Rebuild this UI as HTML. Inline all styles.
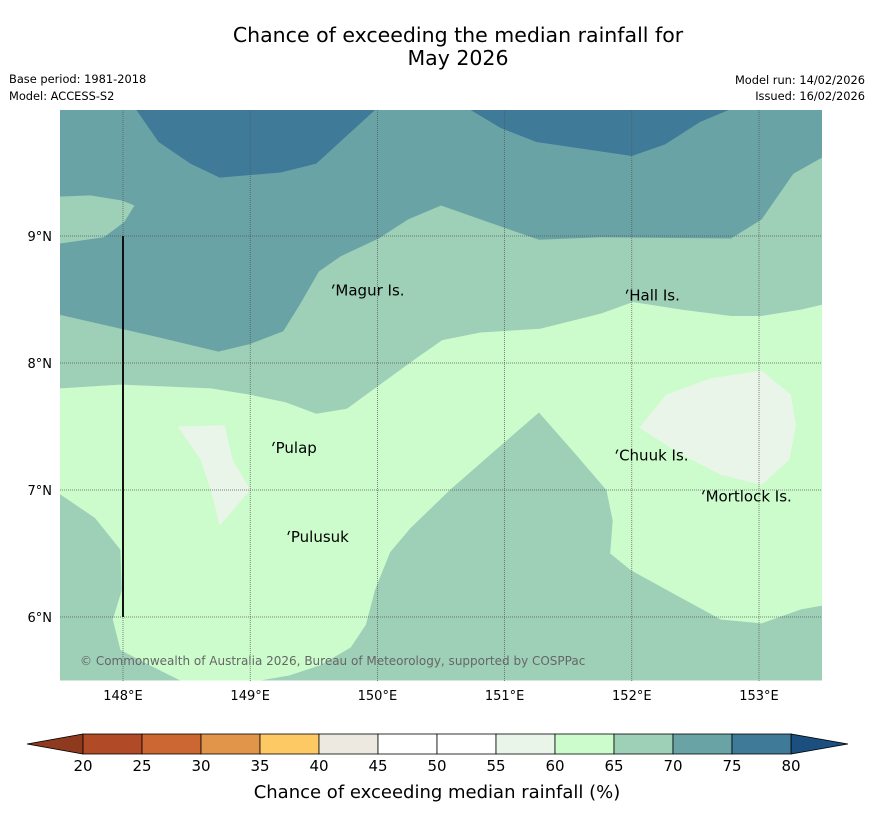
<!DOCTYPE html>
<html><head><meta charset="utf-8">
<style>
body{margin:0;background:#fff;width:873px;height:816px;overflow:hidden;font-family:"Liberation Sans","DejaVu Sans",sans-serif;}
svg text{font-family:"DejaVu Sans","Liberation Sans",sans-serif;}
</style></head>
<body>
<svg id="chart" width="873" height="816">
<text x="458" y="42" font-size="20.5" text-anchor="middle">Chance of exceeding the median rainfall for</text>
<text x="458" y="65" font-size="20.5" text-anchor="middle">May 2026</text>
<text x="9" y="83" font-size="11.4">Base period: 1981-2018</text>
<text x="9" y="100" font-size="11.4">Model: ACCESS-S2</text>
<text x="865" y="84" font-size="11.4" text-anchor="end">Model run: 14/02/2026</text>
<text x="865" y="100" font-size="11.4" text-anchor="end">Issued: 16/02/2026</text>
<defs><clipPath id="mapclip"><rect x="60" y="110" width="762" height="571"/></clipPath></defs>
<g id="map" clip-path="url(#mapclip)"></g>
<g id="overlay"></g>
<g id="cbar"></g>
<text x="437" y="798" font-size="18" text-anchor="middle">Chance of exceeding median rainfall (%)</text>
</svg>
<script>
const lonTicks=[148,149,150,151,152,153];
const latTicks=[6,7,8,9];
const cbLevels=[20,25,30,35,40,45,50,55,60,65,70,75,80];
const cbColors=["#b14a26","#cc6633","#e0954a","#fdc964","#ede9e1","#ffffff","#ffffff","#eaf5e9","#ccfccc","#9ed0b8","#6aa3a5","#3f7a99"];
const cbUnder="#8e3a1e", cbOver="#1a4f7f";
const regions=[
 {level:"70-75",color:"#6aa3a5",pts:[[147.5,10],[153.5,10],[153.5,5.5],[147.5,5.5]]},
 {level:"75-80",color:"#3f7a99",pts:[[148.1,10],[148.28,9.74],[148.53,9.57],[148.76,9.46],[149.24,9.5],[149.52,9.57],[149.76,9.79],[149.99,10]]},
 {level:"75-80",color:"#3f7a99",pts:[[150.72,10],[150.97,9.85],[151.25,9.74],[152.0,9.63],[152.26,9.72],[152.54,9.9],[152.78,10]]},
 {level:"65-70",color:"#9ed0b8",pts:[[147.5,9.31],[147.74,9.32],[147.99,9.28],[148.09,9.24],[148.01,9.11],[147.85,8.99],[147.5,8.94]]},
 {level:"65-70",color:"#9ed0b8",pts:[[147.5,8.38],[148.29,8.2],[148.75,8.09],[149.0,8.15],[149.26,8.25],[149.39,8.46],[149.54,8.72],[149.71,8.84],[150.01,8.98],[150.24,9.13],[150.5,9.24],[151.27,8.97],[151.76,8.99],[152.78,8.98],[153.02,9.13],[153.27,9.49],[153.5,9.62],[153.5,5.5],[147.5,5.5]]},
 {level:"60-65",color:"#ccfccc",pts:[[147.5,7.8],[147.98,7.83],[148.69,7.8],[149.0,7.75],[149.28,7.69],[149.52,7.6],[149.76,7.64],[150.02,7.83],[150.31,8.04],[150.51,8.18],[150.81,8.24],[151.28,8.27],[151.76,8.39],[152.01,8.48],[152.39,8.42],[152.78,8.37],[153.02,8.37],[153.33,8.42],[153.5,8.46],[153.5,6.09],[153.33,6.06],[153.02,5.95],[152.7,5.98],[152.39,6.15],[151.99,6.37],[151.83,6.5],[151.85,6.76],[151.8,7.0],[151.56,7.28],[151.27,7.61],[150.97,7.35],[150.57,7.0],[150.26,6.7],[150.1,6.51],[149.98,6.21],[149.91,5.94],[149.79,5.76],[149.55,5.62],[149.31,5.54],[149.08,5.5],[148.45,5.5],[148.21,5.62],[147.98,5.74],[147.92,5.98],[147.99,6.21],[147.98,6.53],[147.78,6.78],[147.5,6.97]]},
 {level:"65-70",color:"#9ed0b8",pts:[[152.46,5.5],[152.7,5.55],[153.02,5.57],[153.5,5.58],[153.5,5.5]]},
 {level:"55-60",color:"#eaf5e9",pts:[[148.43,7.5],[148.8,7.51],[148.86,7.24],[149.0,7.0],[148.76,6.72],[148.69,7.0],[148.61,7.24]]},
 {level:"55-60",color:"#eaf5e9",pts:[[152.06,7.49],[152.27,7.75],[152.62,7.88],[153.02,7.94],[153.25,7.75],[153.29,7.51],[153.24,7.24],[153.02,7.04],[152.7,7.12],[152.39,7.28]]}
];
const places=[["Magur Is.",149.67,8.57],["Hall Is.",151.98,8.53],["Pulap",149.2,7.33],["Chuuk Is.",151.9,7.27],["Mortlock Is.",152.58,6.95],["Pulusuk",149.32,6.63]];
const NS="http://www.w3.org/2000/svg";
const X=lon=>123+(lon-148)*127.2;
const Y=lat=>236-(lat-9)*127;
function mk(tag,attrs,parent){const e=document.createElementNS(NS,tag);for(const k in attrs)e.setAttribute(k,attrs[k]);parent.appendChild(e);return e;}
const map=document.getElementById('map'),ov=document.getElementById('overlay'),cb=document.getElementById('cbar');
regions.forEach(r=>{
 const p=mk('polygon',{points:r.pts.map(q=>X(q[0])+','+Y(q[1])).join(' '),fill:r.color},map);
 
 
});
lonTicks.forEach(l=>{
 const ln=mk('line',{x1:X(l),x2:X(l),y1:110,y2:681,stroke:'#555','stroke-width':0.7,'stroke-dasharray':'1,1'},map);
 
 
 const t=mk('text',{x:X(l),y:700,'font-size':13,'text-anchor':'middle'},ov);t.textContent=l+'°E';
 
 
});
latTicks.forEach(l=>{
 const ln=mk('line',{x1:60,x2:822,y1:Y(l),y2:Y(l),stroke:'#555','stroke-width':0.7,'stroke-dasharray':'1,1'},map);
 
 
 const t=mk('text',{x:52,y:Y(l)+5,'font-size':13,'text-anchor':'end'},ov);t.textContent=l+'°N';
 
 
});
const vl=mk('line',{x1:X(148),x2:X(148),y1:Y(9),y2:Y(6),stroke:'#111','stroke-width':2},map);


places.forEach(p=>{
 const m=mk('path',{d:`M${X(p[1])-3},${Y(p[2])-2} l1,-3 l1,-1`,fill:'none',stroke:'#000','stroke-width':1.2},map);
 
 
 const t=mk('text',{x:X(p[1]),y:Y(p[2])+5,'font-size':15},map);t.textContent=p[0];
 
 
});
const cp=mk('text',{x:80,y:665,'font-size':12,fill:'#666'},map);cp.textContent='© Commonwealth of Australia 2026, Bureau of Meteorology, supported by COSPPac';


const cbX=v=>83+(v-20)*(708/60);
const cy0=734,cy1=754;
const u=mk('polygon',{points:`27,${(cy0+cy1)/2} ${cbX(20)},${cy0} ${cbX(20)},${cy1}`,fill:cbUnder,stroke:'#000','stroke-width':0.8},cb);


const o=mk('polygon',{points:`848,${(cy0+cy1)/2} ${cbX(80)},${cy0} ${cbX(80)},${cy1}`,fill:cbOver,stroke:'#000','stroke-width':0.8},cb);


cbColors.forEach((c,i)=>{
 const r=mk('rect',{x:cbX(cbLevels[i]),y:cy0,width:cbX(cbLevels[i+1])-cbX(cbLevels[i]),height:cy1-cy0,fill:c,stroke:'#000','stroke-width':0.8},cb);
 
 
});
cbLevels.forEach(v=>{
 const t=mk('text',{x:cbX(v),y:771,'font-size':15,'text-anchor':'middle'},cb);t.textContent=v;
 
 
});
</script>
</body></html>
